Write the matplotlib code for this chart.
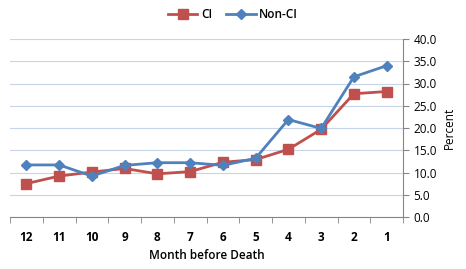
import numpy as np
import matplotlib.pyplot as plt

months = ['12', '11', '10', '9', '8', '7', '6', '5', '4', '3', '2', '1']
ci = [7.5, 9.2, 10.1, 10.9, 9.7, 10.2, 12.3, 12.9, 15.2, 19.7, 27.7, 28.2]
non_ci = [11.7, 11.7, 9.2, 11.6, 12.2, 12.2, 11.6, 13.2, 21.9, 19.9, 31.5, 34.0]

plt.rcParams['font.family'] = ['Open Sans', 'DejaVu Sans']
fig = plt.figure(figsize=(4.66, 2.69), dpi=100)
ax = fig.add_axes([10 / 466, 1 - 217 / 269, 393 / 466, 178 / 269])

x = np.arange(len(months))
ax.plot(x, ci, color='#C0504D', lw=2, marker='s', ms=6.5, label='CI')
ax.plot(x, non_ci, color='#4F81BD', lw=2, marker='D', ms=5, label='Non-CI')

ax.set_xlim(-0.5, len(months) - 0.5)
ax.set_ylim(0, 40)
ax.set_yticks(np.arange(0, 41, 5))
ax.set_yticklabels([f'{v:.1f}' for v in np.arange(0, 41, 5)], fontsize=8.5)
ax.yaxis.tick_right()
ax.yaxis.set_label_position('right')
ax.set_ylabel('Percent', fontsize=8.5)
ax.grid(axis='y', color='#C6D5E8', lw=0.8)
ax.set_axisbelow(True)

ax.set_xticks(x)
ax.set_xticklabels(months, fontsize=8.5, fontweight='bold')
ax.set_xticks(np.arange(-0.5, len(months)), minor=True)
ax.tick_params(axis='x', which='major', length=0, pad=10)
ax.tick_params(axis='x', which='minor', length=4, color='#868686')
ax.tick_params(axis='y', length=4, color='#868686')
ax.set_xlabel('Month before Death', fontsize=8.5, fontweight='semibold')

for s in ['top', 'left']:
    ax.spines[s].set_visible(False)
for s in ['bottom', 'right']:
    ax.spines[s].set_color('#868686')

fig.legend(loc='upper center', bbox_to_anchor=(0.5, 1.01), ncol=2, frameon=False,
           prop={'size': 8.5, 'weight': 'semibold'}, handlelength=2.5,
           columnspacing=1.2, handletextpad=0.3)

fig.savefig('out.png', dpi=100)
